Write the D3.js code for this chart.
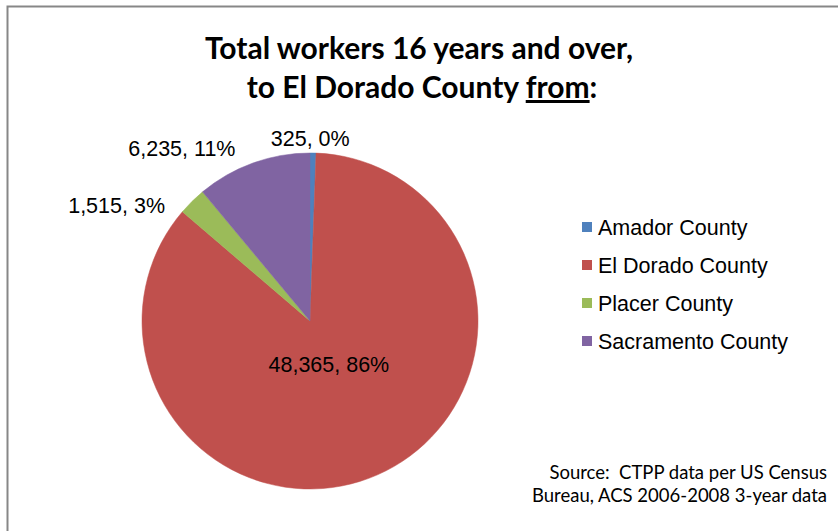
<!DOCTYPE html>
<html>
<head>
<meta charset="utf-8">
<script src="https://cdn.jsdelivr.net/npm/d3@7"></script>
<style>
  body { margin: 0; background: #fff; }
  svg { display: block; }
</style>
</head>
<body>
<svg id="chart"></svg>
<script>
// data
var counties = ["Amador County", "El Dorado County", "Placer County", "Sacramento County"];
var workers = [325, 48365, 1515, 6235];
var pctLabels = ["0%", "86%", "3%", "11%"];
var colors = ["#4F81BD", "#C0504D", "#9BBB59", "#8064A2"];
var titleLines = ["Total workers 16 years and over,", "to El Dorado County "];
var sourceLines = ["Source:  CTPP data per US Census", "Bureau, ACS 2006-2008 3-year data"];

var width = 838, height = 531;
var cx = 310, cy = 321, radius = 168;
// label nudges (excel puts the outside labels a bit off the mid angle)
var labelShift = [[-3, -5], [0, 0], [-20, 11], [-14, -5]];

var svg = d3.select("#chart")
    .attr("width", width)
    .attr("height", height);

svg.append("rect")
    .attr("x", 0).attr("y", 0)
    .attr("width", width).attr("height", height)
    .style("fill", "#fff");

// chart frame, runs off the right and bottom edge
svg.append("rect")
    .attr("x", 7.5).attr("y", 6.5)
    .attr("width", width + 10).attr("height", height + 10)
    .style("fill", "none")
    .style("stroke", "#878787")
    .style("stroke-width", 2);

// title
var title = svg.append("text")
    .attr("text-anchor", "middle")
    .style("font-family", "Lato, 'Open Sans', sans-serif")
    .style("font-weight", "bold")
    .style("font-size", "30px")
    .style("fill", "#000");

title.append("tspan")
    .attr("x", 419).attr("y", 59)
    .text(titleLines[0]);

var t2 = title.append("tspan")
    .attr("x", 422).attr("y", 98)
    .text(titleLines[1]);
t2.append("tspan")
    .style("text-decoration", "underline")
    .text("from");
t2.append("tspan").text(":");

// pie
var data = counties.map(function(c, i) {
    return {name: c, value: workers[i], pct: pctLabels[i], color: colors[i], shift: labelShift[i]};
});

var pie = d3.pie()
    .sort(null)
    .value(function(d) { return d.value; });

var arc = d3.arc()
    .innerRadius(0)
    .outerRadius(radius);

var outerLabelArc = d3.arc()
    .innerRadius(178)
    .outerRadius(178);

var innerLabelArc = d3.arc()
    .innerRadius(47)
    .outerRadius(47);

var g = svg.append("g")
    .attr("transform", "translate(" + cx + "," + cy + ")");

var arcs = pie(data);

g.selectAll("path.slice")
    .data(arcs)
    .enter()
    .append("path")
    .attr("class", "slice")
    .attr("d", arc)
    .style("fill", function(d) { return d.data.color; })
    .style("stroke", function(d) { return d.data.color; })
    .style("stroke-width", 0.5);

g.selectAll("text.lbl")
    .data(arcs)
    .enter()
    .append("text")
    .attr("class", "lbl")
    .attr("transform", function(d) {
        var big = (d.endAngle - d.startAngle) > Math.PI;
        var p = big ? innerLabelArc.centroid(d) : outerLabelArc.centroid(d);
        return "translate(" + (p[0] + d.data.shift[0]) + "," + (p[1] + d.data.shift[1]) + ")";
    })
    .attr("dy", "0.35em")
    .style("text-anchor", function(d) {
        var mid = (d.startAngle + d.endAngle) / 2;
        var s = Math.sin(mid);
        if ((d.endAngle - d.startAngle) > Math.PI || Math.abs(s) < 0.2) return "middle";
        return s < 0 ? "end" : "start";
    })
    .style("font-family", "'Liberation Sans', Arial, sans-serif")
    .style("font-size", "21.5px")
    .style("fill", "#000")
    .text(function(d) { return d3.format(",")(d.data.value) + ", " + d.data.pct; });

// legend
var legend = svg.append("g")
    .attr("transform", "translate(582,227)");

var item = legend.selectAll("g")
    .data(data)
    .enter()
    .append("g")
    .attr("transform", function(d, i) { return "translate(0," + (i * 38) + ")"; });

item.append("rect")
    .attr("x", 0).attr("y", -5)
    .attr("width", 10).attr("height", 10)
    .style("fill", function(d) { return d.color; });

item.append("text")
    .attr("x", 16)
    .attr("dy", "0.35em")
    .style("font-family", "'Liberation Sans', Arial, sans-serif")
    .style("font-size", "21.5px")
    .style("fill", "#000")
    .text(function(d) { return d.name; });

// source note
var src = svg.append("text")
    .attr("text-anchor", "end")
    .style("font-family", "Lato, 'Open Sans', sans-serif")
    .style("font-size", "18.5px")
    .style("white-space", "pre")
    .style("fill", "#000");

src.selectAll("tspan")
    .data(sourceLines)
    .enter()
    .append("tspan")
    .attr("x", 827)
    .attr("y", function(d, i) { return 479 + i * 23; })
    .text(function(d) { return d; });
</script>
</body>
</html>
